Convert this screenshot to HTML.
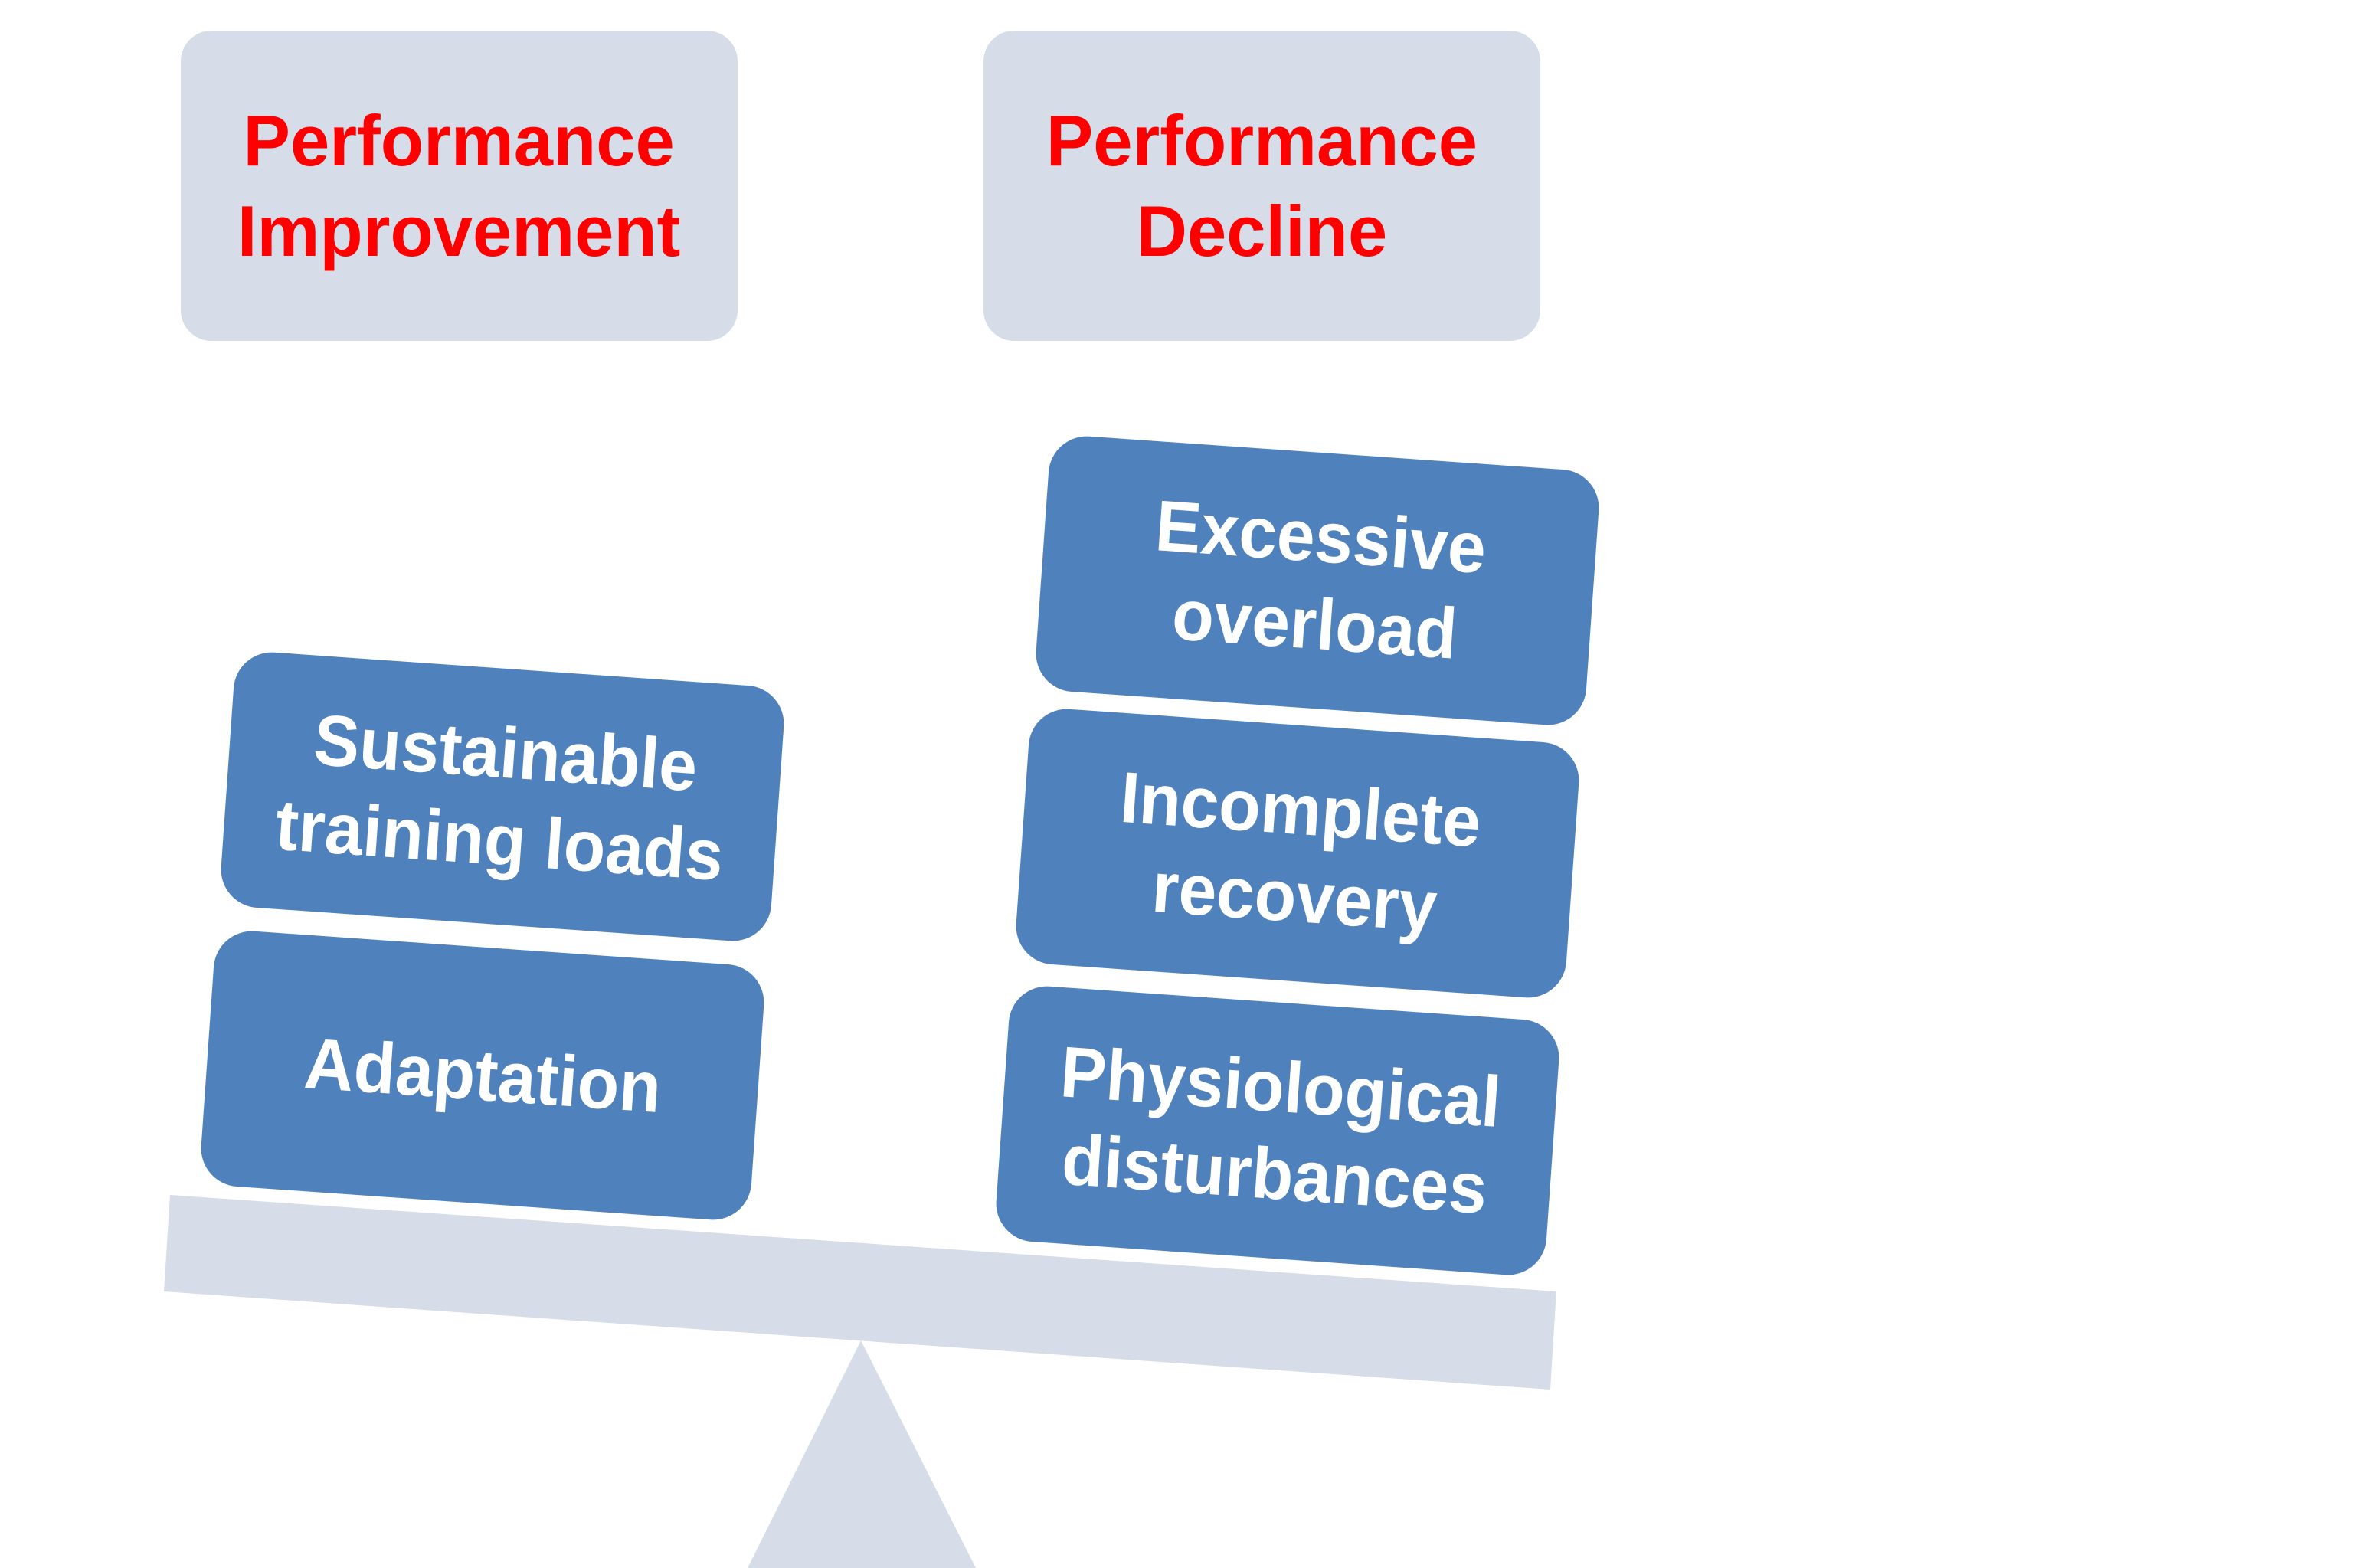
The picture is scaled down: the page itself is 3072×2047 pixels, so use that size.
<!DOCTYPE html>
<html><head><style>
body{margin:0;width:3072px;height:2047px;background:#fff;position:relative;overflow:hidden;font-family:"Liberation Sans",sans-serif;}
.top{position:absolute;top:40px;width:727px;height:405px;background:#d6dde9;border-radius:40px;display:flex;align-items:center;justify-content:center;text-align:center;color:#f00;font-weight:bold;font-size:94px;line-height:118px;}
.top span{display:inline-block;transform:scaleX(0.98);white-space:nowrap;}
.b span{display:inline-block;transform:scaleX(0.95);white-space:nowrap;}
.b{position:absolute;width:720px;height:334px;margin-left:-360px;margin-top:-167px;background:#4f81bd;border-radius:50px;transform:rotate(4deg);display:flex;align-items:center;justify-content:center;text-align:center;color:#fff;font-weight:bold;font-size:94px;line-height:114px;}
</style></head><body>
<div class="top" style="left:236px"><span>Performance<br>Improvement</span></div>
<div class="top" style="left:1284px"><span>Performance<br>Decline</span></div>
<svg width="3072" height="2047" style="position:absolute;left:0;top:0">
<polygon points="222,1560 2032,1686 2024,1814 214,1686" fill="#d6dde9"/>
<polygon points="1124,1750 1274,2047 976,2047" fill="#d6dde9"/>
</svg>
<div class="b" style="left:656px;top:1040px"><span>Sustainable<br>training loads</span></div>
<div class="b" style="left:630px;top:1404px"><span>Adaptation</span></div>
<div class="b" style="left:1720px;top:758px"><span>Excessive<br>overload</span></div>
<div class="b" style="left:1694px;top:1114px"><span>Incomplete<br>recovery</span></div>
<div class="b" style="left:1668px;top:1476px"><span>Physiological<br>disturbances</span></div>
</body></html>
